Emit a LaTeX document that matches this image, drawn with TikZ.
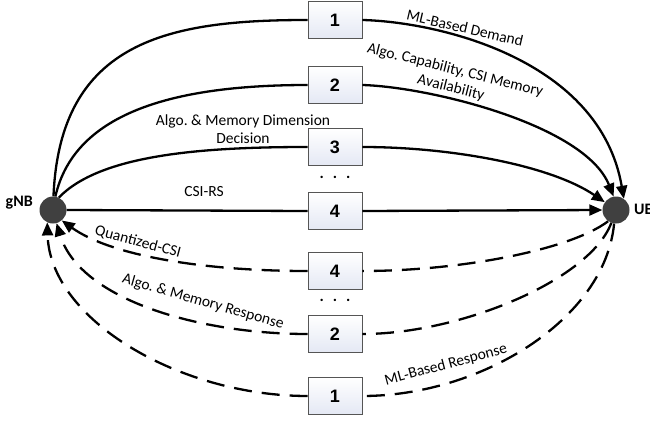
\documentclass[tikz,border=0pt]{standalone}
\usepackage{fontspec}
\setmainfont{Carlito}
\newfontfamily\arialfont{Liberation Sans}
\usetikzlibrary{arrows.meta}
\definecolor{stationgray}{HTML}{404040}
\definecolor{boxedge}{HTML}{555555}
\definecolor{boxfill}{HTML}{E4E8F4}
\frenchspacing
\begin{document}
\begin{tikzpicture}[x=1pt,y=-1pt,
  station/.style={circle,fill=stationgray,minimum size=27pt,inner sep=0pt},
  msgbox/.style={draw=boxedge,line width=0.9pt,top color=white,bottom color=boxfill,
    minimum width=54pt,minimum height=37pt,inner sep=0pt,
    font=\arialfont\bfseries\fontsize{18}{18}\selectfont},
  tip/.style={-{Triangle[length=13pt,width=11pt]}},
  link/.style={line width=2.3pt},
  downlink/.style={link,tip},
  uplink/.style={link,dash pattern=on 18pt off 10pt},
  lbl/.style={font=\fontsize{15.5}{18}\selectfont,inner sep=0pt,align=center},
  stlbl/.style={font=\bfseries\fontsize{16}{16}\selectfont,inner sep=0pt},
  dotrow/.style={font=\bfseries\fontsize{16}{16}\selectfont,inner sep=0pt}
]
\useasboundingbox (0,0) rectangle (650,420);

% end stations
\node[station] (gnb) at (53,210) {};
\node[station] (ue) at (616,210) {};
\node[stlbl,anchor=east] (gnblbl) at (33,203) {gNB};
\node[stlbl,anchor=west] (uelbl) at (634,209) {UE};

% downlink messages
\node[msgbox] (d1) at (335,20) {1};
\node[msgbox] (d2) at (335,85) {2};
\node[msgbox] (d3) at (335,147) {3};
\node[msgbox] (d4) at (335,211) {4};
\node[dotrow] (ddots) at (335,177) {.\hspace{9pt}.\hspace{9pt}.};

% uplink messages
\node[msgbox] (u4) at (335,271) {4};
\node[msgbox] (u2) at (335,334) {2};
\node[msgbox] (u1) at (335,396) {1};
\node[dotrow] (udots) at (335,300) {.\hspace{9pt}.\hspace{9pt}.};

% gNB -> UE
\draw[link] (gnb.88) .. controls (60,40) and (170,20) .. (d1.west);
\draw[downlink] (d1.east) .. controls (440,22) and (600,60) .. (ue.55);
\draw[link] (gnb.80) .. controls (75,110) and (180,85) .. (d2.west);
\draw[downlink] (d2.east) .. controls (430,87) and (585,125) .. (ue.100);
\draw[link] (gnb.65) .. controls (100,155) and (200,147) .. (d3.west);
\draw[downlink] (d3.east) .. controls (450,147) and (550,165) .. (ue.145);
\draw[link] (gnb.east) -- (d4.west);
\draw[downlink] (d4.east) -- (ue.west);

% UE -> gNB
\draw[uplink] (ue.235) .. controls (570,250) and (460,271) .. (u4.east);
\draw[uplink,tip] (u4.west) .. controls (200,271) and (110,255) .. (gnb.310);
\draw[uplink] (ue.250) .. controls (590,280) and (460,334) .. (u2.east);
\draw[uplink,tip] (u2.west) .. controls (200,334) and (80,300) .. (gnb.285);
\draw[uplink] (ue.262) .. controls (605,320) and (480,396) .. (u1.east);
\draw[uplink,tip] (u1.west) .. controls (180,396) and (50,320) .. (gnb.245);

% message labels
\node[lbl,rotate=-13] (lml) at (465,28) {ML-Based Demand};
\node[lbl,rotate=-14] (lcap) at (453,79) {Algo. Capability, CSI Memory\\Availability};
\node[lbl] (ldim) at (243,129) {Algo. \& Memory Dimension\\Decision};
\node[lbl] (lrs) at (204,192) {CSI-RS};
\node[lbl,rotate=-15] (lq) at (138,242) {Quantized-CSI};
\node[lbl,rotate=-16] (lresp) at (203,302) {Algo. \& Memory Response};
\node[lbl,rotate=15] (lmlr) at (446,365) {ML-Based Response};
\end{tikzpicture}
\end{document}
